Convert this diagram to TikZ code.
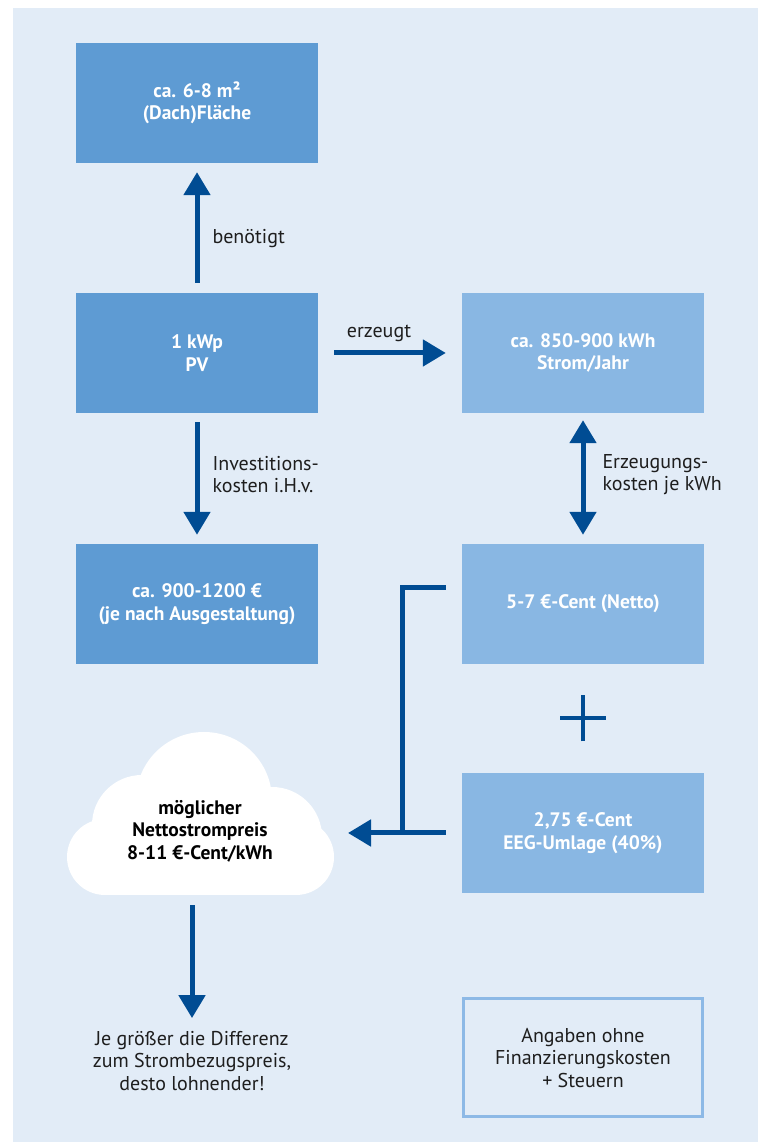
\documentclass[tikz,border=0pt]{standalone}
\usepackage{fontspec}
\setmainfont{PT Sans}
\usetikzlibrary{arrows.meta, positioning}
\usepackage{xcolor}
\definecolor{panelblue}{RGB}{226,236,247}
\definecolor{boxdark}{RGB}{94,155,211}
\definecolor{boxlight}{RGB}{137,183,227}
\definecolor{arrowblue}{RGB}{0,76,147}
\definecolor{frameblue}{RGB}{141,185,230}
\definecolor{labelgray}{RGB}{30,30,30}

\begin{document}
\begin{tikzpicture}[
        			line join=miter,
        			darkboxnode/.style={shape=rectangle, fill=boxdark, text=white, font=\bfseries\fontsize{19.5pt}{22.5pt}\selectfont, minimum width=242pt, minimum height=120pt, align=center, inner sep=0pt},
        			lightboxnode/.style={darkboxnode, fill=boxlight},
        			framenode/.style={shape=rectangle, draw=frameblue, line width=3pt, text=labelgray, font=\fontsize{20pt}{22.5pt}\selectfont, minimum width=239pt, minimum height=118pt, align=center, inner sep=0pt},
        			labelnode/.style={inner sep=0pt, text=labelgray, font=\fontsize{20pt}{22.5pt}\selectfont, align=left},
        			bluearrow/.style={arrowblue, line width=5pt, -{Triangle[length=23pt, width=26pt]}, shorten <=9pt, shorten >=9pt},
        			bluedoublearrow/.style={bluearrow, {Triangle[length=23pt, width=26pt]}-{Triangle[length=23pt, width=26pt]}}
        			]

        			%% Background
        			\useasboundingbox (0pt, 0pt) rectangle (758pt, 1142pt);
        			\fill[panelblue] (13pt, 0pt) rectangle (758pt, 1134pt);

        			%% Boxes
        			\node[darkboxnode] (dach) at (197pt, 1039pt) {ca. 6-8 m²\\(Dach)Fläche};
        			\node[darkboxnode] (pv) at (197pt, 789pt) {1 kWp\\PV};
        			\node[lightboxnode] (strom) at (583pt, 789pt) {ca. 850-900 kWh\\Strom/Jahr};
        			\node[darkboxnode] (invest) at (197pt, 538pt) {ca. 900-1200 €\\(je nach Ausgestaltung)};
        			\node[lightboxnode] (netto) at (583pt, 538pt) {5-7 €-Cent (Netto)};
        			\node[lightboxnode] (eeg) at (583pt, 309pt) {2,75 €-Cent\\EEG-Umlage (40\%)};
        			\node[framenode] (angaben) at (583pt, 84pt) {Angaben ohne\\Finanzierungskosten\\+ Steuern};

% Cloud
                            \fill[white] (204pt, 342pt) circle (68pt);
                            \fill[white] (142pt, 317pt) circle (50pt);
                            \fill[white] (105pt, 285pt) circle (38pt);
                            \fill[white] (272pt, 305pt) circle (50pt);
                            \fill[white] (296pt, 285pt) circle (38pt);
                            \fill[white] (105pt, 247pt) rectangle (296pt, 322pt);
                            \node[labelnode, align=center, font=\bfseries\fontsize{19.5pt}{22.5pt}\selectfont, text=black, minimum height=128pt] (wolke) at (200pt, 311pt) {möglicher\\Nettostrompreis\\8-11 €-Cent/kWh};
                            \node[labelnode, align=center] (fazit) at (192pt, 81pt) {Je größer die Differenz\\zum Strombezugspreis,\\desto lohnender!};

        			%% Arrows
        			\draw[bluearrow, shorten <=10pt] (pv) -- node[labelnode, right=13pt, pos=0.42] {benötigt} (dach);
        			\draw[bluearrow, shorten <=16pt, shorten >=16pt] (pv) -- node[labelnode, pos=0.5, above=9pt, xshift=-11pt] {erzeugt} (strom);
        			\draw[bluearrow] (pv) -- node[labelnode, right=13pt, pos=0.47] {Investitions-\\kosten i.H.v.} (invest);
        			\draw[bluedoublearrow, shorten <=7pt] (strom) -- node[labelnode, right=17pt, pos=0.47] {Erzeugungs-\\kosten je kWh} (netto);
        			\draw[bluearrow, shorten <=10pt, shorten >=13pt] (wolke.south -| fazit.north) -- (fazit.north);

% Bracket to cloud
                            \coordinate (knick) at (402pt, 309pt);
                            \coordinate (ziel) at (348pt, 309pt);
                            \draw[arrowblue, line width=5pt] ([xshift=-16pt, yshift=16pt]netto.west) -| (knick);
                            \draw[bluearrow, shorten <=16pt, shorten >=0pt] (eeg.west) -- (ziel);

% Plus sign
                            \coordinate (plus) at (583pt, 423.5pt);
                            \draw[arrowblue, line width=4pt] ([xshift=-23pt]plus) -- ([xshift=23pt]plus);
                            \draw[arrowblue, line width=4pt] ([yshift=-23pt]plus) -- ([yshift=23pt]plus);
        \end{tikzpicture}
\end{document}
